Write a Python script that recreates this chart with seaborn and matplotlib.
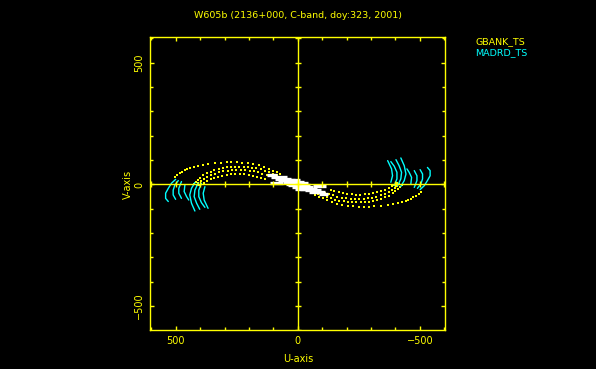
import numpy as np
import pandas as pd
import matplotlib
matplotlib.use("Agg")
import matplotlib.pyplot as plt
from matplotlib.ticker import MultipleLocator
import seaborn as sns

# --- uv tracks (one half, the other half is the conjugate -u,-v)
# GBANK_TS (yellow), dotted elliptical arcs
y1_u = [505, 495, 484, 473, 463, 453, 443, 426, 409, 389, 368, 341, 313, 292, 272, 250, 228, 205, 182, 160, 140, 120, 102, 86, 72]
y1_v = [30, 38, 46, 53, 60, 63, 66, 72, 77, 81, 84, 88, 90, 92, 93, 92, 90, 88, 84, 79, 72, 65, 57, 50, 44]
y2_u = [425, 418, 410, 400, 388, 374, 358, 342, 325, 308, 292, 275, 258, 240, 222, 205, 188, 170, 152, 135, 118, 100, 84]
y2_v = [2, 10, 18, 27, 37, 46, 53, 58, 63, 67, 70, 72, 73, 73, 72, 71, 69, 66, 62, 57, 51, 44, 38]
y3_u = [415, 408, 398, 386, 372, 356, 340, 322, 305, 288, 270, 252, 234, 216, 198, 180, 162, 145, 128, 112]
y3_v = [-2, 6, 14, 22, 31, 38, 45, 50, 54, 57, 59, 60, 60, 59, 57, 54, 50, 45, 40, 34]
y4_u = [405, 396, 385, 372, 358, 342, 326, 309, 292, 274, 256, 238, 220, 202, 185, 168, 150, 134]
y4_v = [-4, 2, 8, 15, 21, 27, 32, 36, 39, 41, 42, 42, 41, 39, 36, 32, 27, 22]

# MADRD_TS (cyan), short curved arcs
c_arcs = [
    ([501, 518, 531, 542, 542, 531], [21, 5, -16, -36, -57, -70]),
    ([490, 504, 511, 511, 501], [16, -2, -23, -43, -61]),
    ([477, 488, 488, 477], [12, -16, -36, -57]),
    ([463, 466, 456, 447], [-2, -29, -50, -64]),
    ([422, 436, 443, 436, 422], [8, -16, -43, -77, -109]),
    ([409, 422, 425, 415, 402], [5, -23, -50, -77, -102]),
    ([395, 406, 406, 395, 381], [5, -23, -50, -75, -94]),
    ([381, 388, 384, 368], [-9, -36, -64, -98]),
]

# short-baseline streaks (white): u_start, u_end, v
w_u0 = [125, 110, 95, 80, 115, 60, 50, 40, 25, 10]
w_u1 = [85, 45, 30, 10, 60, -5, -20, -30, -35, -45]
w_v = [38, 30, 24, 17, 8, 10, 3, -4, -12, -18]

title = "W605b (2136+000, C-band, doy:323, 2001)"
stations = ["GBANK_TS", "MADRD_TS"]
colors = {"GBANK_TS": "#ffff00", "MADRD_TS": "#00ffff"}

sns.set_style("ticks", rc={"axes.facecolor": "black", "figure.facecolor": "black",
                           "axes.edgecolor": "#ffff00", "text.color": "#ffff00",
                           "xtick.color": "#ffff00", "ytick.color": "#ffff00",
                           "axes.labelcolor": "#ffff00"})
plt.rcParams["font.family"] = ["DejaVu Sans"]

yu = y1_u + y2_u + y3_u + y4_u
yv = y1_v + y2_v + y3_v + y4_v
yel = pd.DataFrame({"U": yu + [-u for u in yu], "V": yv + [-v for v in yv], "stn": "GBANK_TS"})

fig = plt.figure(figsize=(5.96, 3.69), dpi=100)
ax = fig.add_axes([150 / 596, 1 - 330 / 369, 295 / 596, 293 / 369])

# white streaks
ax.hlines(w_v, w_u0, w_u1, color="white", lw=2.4)
ax.hlines([-v for v in w_v], [-u for u in w_u0], [-u for u in w_u1], color="white", lw=2.4)

sns.scatterplot(data=yel, x="U", y="V", color=colors["GBANK_TS"], marker="s",
                s=4, linewidth=0, ax=ax, legend=False)
for cu, cv in c_arcs:
    for sgn in (1, -1):
        sns.lineplot(x=[sgn * u for u in cu], y=[sgn * v for v in cv], sort=False,
                     estimator=None, color=colors["MADRD_TS"], lw=1.0, ax=ax)

# axes through the origin with their own ticks
ax.axhline(0, color="#ffff00", lw=1.0)
ax.axvline(0, color="#ffff00", lw=1.0)
tk = np.arange(-600, 601, 100)
ax.plot(tk, np.zeros_like(tk), ls="none", marker="|", ms=4, mew=1.0, color="#ffff00")
ax.plot(np.zeros_like(tk), tk, ls="none", marker="_", ms=4, mew=1.0, color="#ffff00")

ax.set_xlim(606, -603)
ax.set_ylim(-598, 606)
ax.xaxis.set_major_locator(MultipleLocator(500))
ax.yaxis.set_major_locator(MultipleLocator(500))
ax.xaxis.set_minor_locator(MultipleLocator(100))
ax.yaxis.set_minor_locator(MultipleLocator(100))
ax.tick_params(which="both", direction="in", top=True, right=True, width=1.0, labelsize=7)
ax.tick_params(which="major", length=3.2, pad=4)
ax.tick_params(which="minor", length=2.2)
for lab in ax.get_yticklabels():
    lab.set_rotation(90)
    lab.set_va("center")
for sp in ax.spines.values():
    sp.set_linewidth(1.0)
    sp.set_color("#ffff00")

ax.set_xlabel("")
ax.set_ylabel("")
fig.text(298 / 596, 1 - 359 / 369, "U-axis", ha="center", va="center", fontsize=7)
fig.text(128 / 596, 1 - 184 / 369, "V-axis", ha="center", va="center", rotation=90, fontsize=7)
fig.text(298 / 596, 1 - 15 / 369, title, ha="center", va="center", fontsize=6.8)
fig.text(475 / 596, 1 - 42 / 369, stations[0], color=colors[stations[0]], ha="left", va="center", fontsize=6.8)
fig.text(475 / 596, 1 - 53 / 369, stations[1], color=colors[stations[1]], ha="left", va="center", fontsize=6.8)

fig.savefig("out.png", dpi=100, facecolor="black")
